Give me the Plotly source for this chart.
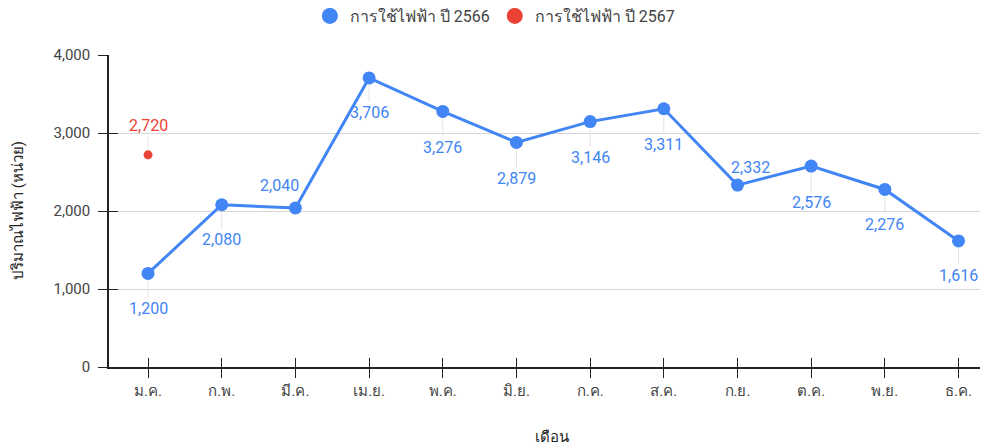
import plotly.graph_objects as go

months = ["ม.ค.", "ก.พ.", "มี.ค.", "เม.ย.", "พ.ค.", "มิ.ย.", "ก.ค.", "ส.ค.", "ก.ย.", "ต.ค.", "พ.ย.", "ธ.ค."]
usage_2566 = [1200, 2080, 2040, 3706, 3276, 2879, 3146, 3311, 2332, 2576, 2276, 1616]
months_2567 = ["ม.ค."]
usage_2567 = [2720]
name_2566 = "การใช้ไฟฟ้า ปี 2566"
name_2567 = "การใช้ไฟฟ้า ปี 2567"
y_ticks = [0, 1000, 2000, 3000, 4000]

# label placement style (pixel offsets dx, dy, leader line)
label_style_2566 = [(0, 35, True), (0, 35, True), (-16, -22, False), (0, 35, True),
                    (0, 36, True), (0, 36, True), (0, 36, True), (0, 36, True),
                    (13, -18, False), (0, 36, True), (0, 35, True), (0, 35, True)]
label_style_2567 = [(0, -29, True)]

BLUE = "#4285F4"
RED = "#EA4335"
FONT = "Roboto, 'Noto Sans', sans-serif"

fig = go.Figure()
fig.add_trace(go.Scatter(x=months, y=usage_2566, mode="lines+markers", name=name_2566,
                         line=dict(color=BLUE, width=3), marker=dict(color=BLUE, size=13),
                         showlegend=False, hoverinfo="skip"))
fig.add_trace(go.Scatter(x=months_2567, y=usage_2567, mode="markers", name=name_2567,
                         marker=dict(color=RED, size=9), showlegend=False, hoverinfo="skip"))
# legend-only entries
fig.add_trace(go.Scatter(x=[None], y=[None], mode="markers", name=name_2566,
                         marker=dict(color=BLUE, size=16)))
fig.add_trace(go.Scatter(x=[None], y=[None], mode="markers", name=name_2567,
                         marker=dict(color=RED, size=16)))

# overlay axes so that ticks cross the axis lines
fig.add_trace(go.Scatter(x=[None], y=[None], xaxis="x2", yaxis="y2", showlegend=False))

annotations = []
def add_labels(xs, ys, styles, color):
    for x, y, (dx, dy, line) in zip(xs, ys, styles):
        annotations.append(dict(x=x, y=y, xref="x", yref="y", text=f"{y:,}",
                                showarrow=True, ax=dx, ay=dy, arrowhead=0, arrowwidth=1,
                                arrowcolor="#e3e3e3" if line else "rgba(0,0,0,0)",
                                standoff=7, font=dict(family=FONT, size=16, color=color)))
add_labels(months, usage_2566, label_style_2566, BLUE)
add_labels(months_2567, usage_2567, label_style_2567, RED)

annotations.append(dict(text="เดือน", xref="paper", yref="paper", x=0.504, y=-0.224,
                        xanchor="center", yanchor="middle", showarrow=False,
                        font=dict(family=FONT, size=15, color="#222")))
annotations.append(dict(text="ปริมาณไฟฟ้า (หน่วย)", xref="paper", yref="paper", x=-0.1035, y=0.5,
                        xanchor="center", yanchor="middle", showarrow=False, textangle=-90,
                        font=dict(family=FONT, size=15, color="#222")))

xr = [-0.53, 11.40]
yr = [0, 4000]
fig.update_layout(
    width=980, height=440,
    margin=dict(l=101, r=0, t=47, b=81, autoexpand=False),
    paper_bgcolor="white", plot_bgcolor="white",
    font=dict(family=FONT, size=15, color="#444"),
    showlegend=True,
    legend=dict(orientation="h", x=0.439, xanchor="center", y=1.125, yanchor="middle",
                font=dict(family=FONT, size=16, color="#444"), itemwidth=30),
    xaxis=dict(type="category", categoryorder="array", categoryarray=months, range=xr,
               showline=True, linecolor="#222", linewidth=1.5, ticks="outside", ticklen=9,
               tickcolor="#222", tickwidth=1, showgrid=False, zeroline=False, automargin=False,
               tickfont=dict(family=FONT, size=15, color="#444")),
    yaxis=dict(range=yr, tickvals=y_ticks, tickformat=",", showline=True, linecolor="#222",
               linewidth=1.5, ticks="outside", ticklen=9, tickcolor="#222", tickwidth=1,
               showgrid=True, gridcolor="#d6d6d6", gridwidth=1, zeroline=False, automargin=False,
               ticklabelstandoff=5, tickfont=dict(family=FONT, size=15, color="#444")),
    xaxis2=dict(overlaying="x", range=xr, tickvals=list(range(len(months))), ticks="inside",
                ticklen=9, tickcolor="#222", tickwidth=1, showticklabels=False, showgrid=False,
                zeroline=False, showline=False, side="bottom", automargin=False),
    yaxis2=dict(overlaying="y", range=yr, tickvals=y_ticks, ticks="inside", ticklen=9,
                tickcolor="#222", tickwidth=1, showticklabels=False, showgrid=False,
                zeroline=False, showline=False, side="left", automargin=False),
    annotations=annotations,
)

fig.write_html("out.html")
